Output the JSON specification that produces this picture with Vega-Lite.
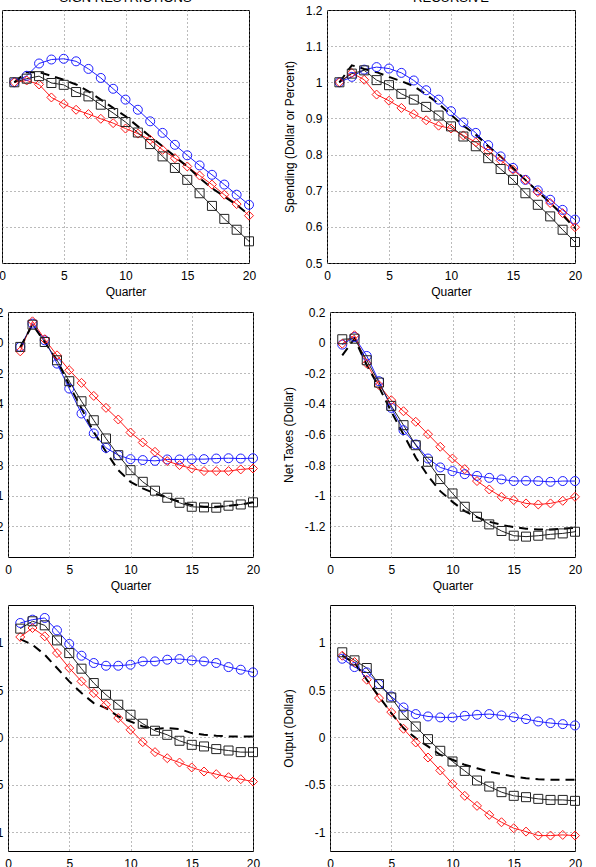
{
"$schema": "https://vega.github.io/schema/vega-lite/v6.json",
"padding": {"left": -77, "top": -9, "right": 0, "bottom": 0},
"autosize": {"type": "pad"},
"config": {
  "font": "Liberation Sans",
  "view": {"stroke": "#000", "strokeWidth": 1},
  "axis": {"domain": false, "tickSize": 0, "labelFontSize": 12, "labelColor": "#000", "titleFontSize": 12, "titleFontWeight": "normal", "titleColor": "#000", "grid": true, "gridDash": [1, 3], "gridColor": "#777", "gridOpacity": 1, "labelPadding": 5},
  "axisX": {"labelPadding": 7, "titlePadding": 5, "labelFlush": false},
  "axisY": {"titlePadding": 9},
  "title": {"fontSize": 13, "fontWeight": "normal", "color": "#000", "offset": -1, "anchor": "middle"},
  "legend": {"disable": true}
},
"datasets": {
"tl": [
{"s":"circle","q":1,"v":1.0},{"s":"circle","q":2,"v":1.018},{"s":"circle","q":3,"v":1.052},{"s":"circle","q":4,"v":1.063},{"s":"circle","q":5,"v":1.065},{"s":"circle","q":6,"v":1.058},{"s":"circle","q":7,"v":1.037},{"s":"circle","q":8,"v":1.012},{"s":"circle","q":9,"v":0.982},{"s":"circle","q":10,"v":0.952},{"s":"circle","q":11,"v":0.924},{"s":"circle","q":12,"v":0.892},{"s":"circle","q":13,"v":0.860},{"s":"circle","q":14,"v":0.827},{"s":"circle","q":15,"v":0.798},{"s":"circle","q":16,"v":0.770},{"s":"circle","q":17,"v":0.744},{"s":"circle","q":18,"v":0.717},{"s":"circle","q":19,"v":0.689},{"s":"circle","q":20,"v":0.661},
{"s":"diamond","q":1,"v":1.0},{"s":"diamond","q":2,"v":1.005},{"s":"diamond","q":3,"v":0.994},{"s":"diamond","q":4,"v":0.958},{"s":"diamond","q":5,"v":0.940},{"s":"diamond","q":6,"v":0.924},{"s":"diamond","q":7,"v":0.912},{"s":"diamond","q":8,"v":0.899},{"s":"diamond","q":9,"v":0.887},{"s":"diamond","q":10,"v":0.872},{"s":"diamond","q":11,"v":0.858},{"s":"diamond","q":12,"v":0.841},{"s":"diamond","q":13,"v":0.813},{"s":"diamond","q":14,"v":0.790},{"s":"diamond","q":15,"v":0.767},{"s":"diamond","q":16,"v":0.742},{"s":"diamond","q":17,"v":0.717},{"s":"diamond","q":18,"v":0.689},{"s":"diamond","q":19,"v":0.663},{"s":"diamond","q":20,"v":0.631},
{"s":"square","q":1,"v":1.0},{"s":"square","q":2,"v":1.010},{"s":"square","q":3,"v":1.017},{"s":"square","q":4,"v":0.998},{"s":"square","q":5,"v":0.993},{"s":"square","q":6,"v":0.973},{"s":"square","q":7,"v":0.961},{"s":"square","q":8,"v":0.938},{"s":"square","q":9,"v":0.915},{"s":"square","q":10,"v":0.890},{"s":"square","q":11,"v":0.861},{"s":"square","q":12,"v":0.829},{"s":"square","q":13,"v":0.795},{"s":"square","q":14,"v":0.763},{"s":"square","q":15,"v":0.730},{"s":"square","q":16,"v":0.693},{"s":"square","q":17,"v":0.658},{"s":"square","q":18,"v":0.622},{"s":"square","q":19,"v":0.592},{"s":"square","q":20,"v":0.560},
{"s":"dashed","q":1,"v":1.0},{"s":"dashed","q":2,"v":1.028},{"s":"dashed","q":3,"v":1.028},{"s":"dashed","q":4,"v":1.018},{"s":"dashed","q":5,"v":1.007},{"s":"dashed","q":6,"v":0.994},{"s":"dashed","q":7,"v":0.975},{"s":"dashed","q":8,"v":0.952},{"s":"dashed","q":9,"v":0.929},{"s":"dashed","q":10,"v":0.906},{"s":"dashed","q":11,"v":0.878},{"s":"dashed","q":12,"v":0.850},{"s":"dashed","q":13,"v":0.823},{"s":"dashed","q":14,"v":0.795},{"s":"dashed","q":15,"v":0.767},{"s":"dashed","q":16,"v":0.735},{"s":"dashed","q":17,"v":0.707},{"s":"dashed","q":18,"v":0.684},{"s":"dashed","q":19,"v":0.661},{"s":"dashed","q":20,"v":0.633}
],
"tr": [
{"s":"circle","q":1,"v":1.0},{"s":"circle","q":2,"v":1.015},{"s":"circle","q":3,"v":1.035},{"s":"circle","q":4,"v":1.042},{"s":"circle","q":5,"v":1.038},{"s":"circle","q":6,"v":1.026},{"s":"circle","q":7,"v":1.005},{"s":"circle","q":8,"v":0.978},{"s":"circle","q":9,"v":0.952},{"s":"circle","q":10,"v":0.920},{"s":"circle","q":11,"v":0.889},{"s":"circle","q":12,"v":0.860},{"s":"circle","q":13,"v":0.826},{"s":"circle","q":14,"v":0.795},{"s":"circle","q":15,"v":0.763},{"s":"circle","q":16,"v":0.730},{"s":"circle","q":17,"v":0.701},{"s":"circle","q":18,"v":0.675},{"s":"circle","q":19,"v":0.647},{"s":"circle","q":20,"v":0.620},
{"s":"diamond","q":1,"v":1.0},{"s":"diamond","q":2,"v":1.026},{"s":"diamond","q":3,"v":1.007},{"s":"diamond","q":4,"v":0.966},{"s":"diamond","q":5,"v":0.949},{"s":"diamond","q":6,"v":0.929},{"s":"diamond","q":7,"v":0.912},{"s":"diamond","q":8,"v":0.895},{"s":"diamond","q":9,"v":0.880},{"s":"diamond","q":10,"v":0.872},{"s":"diamond","q":11,"v":0.853},{"s":"diamond","q":12,"v":0.834},{"s":"diamond","q":13,"v":0.809},{"s":"diamond","q":14,"v":0.784},{"s":"diamond","q":15,"v":0.758},{"s":"diamond","q":16,"v":0.730},{"s":"diamond","q":17,"v":0.696},{"s":"diamond","q":18,"v":0.666},{"s":"diamond","q":19,"v":0.638},{"s":"diamond","q":20,"v":0.599},
{"s":"square","q":1,"v":1.0},{"s":"square","q":2,"v":1.024},{"s":"square","q":3,"v":1.033},{"s":"square","q":4,"v":1.006},{"s":"square","q":5,"v":0.992},{"s":"square","q":6,"v":0.968},{"s":"square","q":7,"v":0.952},{"s":"square","q":8,"v":0.932},{"s":"square","q":9,"v":0.908},{"s":"square","q":10,"v":0.878},{"s":"square","q":11,"v":0.850},{"s":"square","q":12,"v":0.823},{"s":"square","q":13,"v":0.790},{"s":"square","q":14,"v":0.760},{"s":"square","q":15,"v":0.730},{"s":"square","q":16,"v":0.693},{"s":"square","q":17,"v":0.661},{"s":"square","q":18,"v":0.629},{"s":"square","q":19,"v":0.592},{"s":"square","q":20,"v":0.558},
{"s":"dashed","q":1,"v":1.0},{"s":"dashed","q":2,"v":1.047},{"s":"dashed","q":3,"v":1.037},{"s":"dashed","q":4,"v":1.028},{"s":"dashed","q":5,"v":1.015},{"s":"dashed","q":6,"v":1.003},{"s":"dashed","q":7,"v":0.989},{"s":"dashed","q":8,"v":0.966},{"s":"dashed","q":9,"v":0.941},{"s":"dashed","q":10,"v":0.910},{"s":"dashed","q":11,"v":0.880},{"s":"dashed","q":12,"v":0.855},{"s":"dashed","q":13,"v":0.823},{"s":"dashed","q":14,"v":0.795},{"s":"dashed","q":15,"v":0.763},{"s":"dashed","q":16,"v":0.730},{"s":"dashed","q":17,"v":0.698},{"s":"dashed","q":18,"v":0.666},{"s":"dashed","q":19,"v":0.633},{"s":"dashed","q":20,"v":0.596}
],
"ml": [
{"s":"circle","q":1,"v":-0.028},{"s":"circle","q":2,"v":0.124},{"s":"circle","q":3,"v":0.015},{"s":"circle","q":4,"v":-0.137},{"s":"circle","q":5,"v":-0.300},{"s":"circle","q":6,"v":-0.463},{"s":"circle","q":7,"v":-0.593},{"s":"circle","q":8,"v":-0.687},{"s":"circle","q":9,"v":-0.735},{"s":"circle","q":10,"v":-0.761},{"s":"circle","q":11,"v":-0.767},{"s":"circle","q":12,"v":-0.772},{"s":"circle","q":13,"v":-0.763},{"s":"circle","q":14,"v":-0.763},{"s":"circle","q":15,"v":-0.761},{"s":"circle","q":16,"v":-0.761},{"s":"circle","q":17,"v":-0.757},{"s":"circle","q":18,"v":-0.755},{"s":"circle","q":19,"v":-0.757},{"s":"circle","q":20,"v":-0.755},
{"s":"diamond","q":1,"v":-0.057},{"s":"diamond","q":2,"v":0.139},{"s":"diamond","q":3,"v":0.022},{"s":"diamond","q":4,"v":-0.083},{"s":"diamond","q":5,"v":-0.180},{"s":"diamond","q":6,"v":-0.263},{"s":"diamond","q":7,"v":-0.348},{"s":"diamond","q":8,"v":-0.426},{"s":"diamond","q":9,"v":-0.502},{"s":"diamond","q":10,"v":-0.587},{"s":"diamond","q":11,"v":-0.652},{"s":"diamond","q":12,"v":-0.713},{"s":"diamond","q":13,"v":-0.774},{"s":"diamond","q":14,"v":-0.800},{"s":"diamond","q":15,"v":-0.822},{"s":"diamond","q":16,"v":-0.839},{"s":"diamond","q":17,"v":-0.839},{"s":"diamond","q":18,"v":-0.839},{"s":"diamond","q":19,"v":-0.828},{"s":"diamond","q":20,"v":-0.822},
{"s":"square","q":1,"v":-0.028},{"s":"square","q":2,"v":0.117},{"s":"square","q":3,"v":0.004},{"s":"square","q":4,"v":-0.115},{"s":"square","q":5,"v":-0.252},{"s":"square","q":6,"v":-0.383},{"s":"square","q":7,"v":-0.507},{"s":"square","q":8,"v":-0.626},{"s":"square","q":9,"v":-0.735},{"s":"square","q":10,"v":-0.833},{"s":"square","q":11,"v":-0.909},{"s":"square","q":12,"v":-0.967},{"s":"square","q":13,"v":-1.013},{"s":"square","q":14,"v":-1.046},{"s":"square","q":15,"v":-1.072},{"s":"square","q":16,"v":-1.076},{"s":"square","q":17,"v":-1.078},{"s":"square","q":18,"v":-1.065},{"s":"square","q":19,"v":-1.057},{"s":"square","q":20,"v":-1.043},
{"s":"dashed","q":1,"v":-0.03},{"s":"dashed","q":2,"v":0.117},{"s":"dashed","q":3,"v":0.004},{"s":"dashed","q":4,"v":-0.115},{"s":"dashed","q":5,"v":-0.278},{"s":"dashed","q":6,"v":-0.430},{"s":"dashed","q":7,"v":-0.583},{"s":"dashed","q":8,"v":-0.713},{"s":"dashed","q":9,"v":-0.833},{"s":"dashed","q":10,"v":-0.909},{"s":"dashed","q":11,"v":-0.952},{"s":"dashed","q":12,"v":-0.985},{"s":"dashed","q":13,"v":-1.013},{"s":"dashed","q":14,"v":-1.039},{"s":"dashed","q":15,"v":-1.061},{"s":"dashed","q":16,"v":-1.072},{"s":"dashed","q":17,"v":-1.072},{"s":"dashed","q":18,"v":-1.065},{"s":"dashed","q":19,"v":-1.057},{"s":"dashed","q":20,"v":-1.043}
],
"mr": [
{"s":"circle","q":1,"v":-0.013},{"s":"circle","q":2,"v":0.037},{"s":"circle","q":3,"v":-0.087},{"s":"circle","q":4,"v":-0.252},{"s":"circle","q":5,"v":-0.426},{"s":"circle","q":6,"v":-0.572},{"s":"circle","q":7,"v":-0.665},{"s":"circle","q":8,"v":-0.757},{"s":"circle","q":9,"v":-0.815},{"s":"circle","q":10,"v":-0.839},{"s":"circle","q":11,"v":-0.859},{"s":"circle","q":12,"v":-0.870},{"s":"circle","q":13,"v":-0.883},{"s":"circle","q":14,"v":-0.893},{"s":"circle","q":15,"v":-0.904},{"s":"circle","q":16,"v":-0.902},{"s":"circle","q":17,"v":-0.904},{"s":"circle","q":18,"v":-0.909},{"s":"circle","q":19,"v":-0.904},{"s":"circle","q":20,"v":-0.904},
{"s":"diamond","q":1,"v":-0.007},{"s":"diamond","q":2,"v":0.048},{"s":"diamond","q":3,"v":-0.137},{"s":"diamond","q":4,"v":-0.278},{"s":"diamond","q":5,"v":-0.376},{"s":"diamond","q":6,"v":-0.448},{"s":"diamond","q":7,"v":-0.517},{"s":"diamond","q":8,"v":-0.598},{"s":"diamond","q":9,"v":-0.680},{"s":"diamond","q":10,"v":-0.757},{"s":"diamond","q":11,"v":-0.826},{"s":"diamond","q":12,"v":-0.904},{"s":"diamond","q":13,"v":-0.959},{"s":"diamond","q":14,"v":-1.007},{"s":"diamond","q":15,"v":-1.028},{"s":"diamond","q":16,"v":-1.050},{"s":"diamond","q":17,"v":-1.057},{"s":"diamond","q":18,"v":-1.050},{"s":"diamond","q":19,"v":-1.033},{"s":"diamond","q":20,"v":-1.007},
{"s":"square","q":1,"v":0.022},{"s":"square","q":2,"v":0.026},{"s":"square","q":3,"v":-0.115},{"s":"square","q":4,"v":-0.261},{"s":"square","q":5,"v":-0.413},{"s":"square","q":6,"v":-0.539},{"s":"square","q":7,"v":-0.670},{"s":"square","q":8,"v":-0.778},{"s":"square","q":9,"v":-0.891},{"s":"square","q":10,"v":-0.985},{"s":"square","q":11,"v":-1.072},{"s":"square","q":12,"v":-1.137},{"s":"square","q":13,"v":-1.187},{"s":"square","q":14,"v":-1.230},{"s":"square","q":15,"v":-1.261},{"s":"square","q":16,"v":-1.267},{"s":"square","q":17,"v":-1.261},{"s":"square","q":18,"v":-1.252},{"s":"square","q":19,"v":-1.246},{"s":"square","q":20,"v":-1.235},
{"s":"dashed","q":1,"v":-0.083},{"s":"dashed","q":2,"v":0.026},{"s":"dashed","q":3,"v":-0.148},{"s":"dashed","q":4,"v":-0.290},{"s":"dashed","q":5,"v":-0.450},{"s":"dashed","q":6,"v":-0.600},{"s":"dashed","q":7,"v":-0.750},{"s":"dashed","q":8,"v":-0.870},{"s":"dashed","q":9,"v":-0.970},{"s":"dashed","q":10,"v":-1.040},{"s":"dashed","q":11,"v":-1.100},{"s":"dashed","q":12,"v":-1.140},{"s":"dashed","q":13,"v":-1.170},{"s":"dashed","q":14,"v":-1.190},{"s":"dashed","q":15,"v":-1.205},{"s":"dashed","q":16,"v":-1.215},{"s":"dashed","q":17,"v":-1.220},{"s":"dashed","q":18,"v":-1.220},{"s":"dashed","q":19,"v":-1.215},{"s":"dashed","q":20,"v":-1.210}
],
"bl": [
{"s":"circle","q":1,"v":1.210},{"s":"circle","q":2,"v":1.245},{"s":"circle","q":3,"v":1.263},{"s":"circle","q":4,"v":1.132},{"s":"circle","q":5,"v":0.988},{"s":"circle","q":6,"v":0.864},{"s":"circle","q":7,"v":0.787},{"s":"circle","q":8,"v":0.758},{"s":"circle","q":9,"v":0.758},{"s":"circle","q":10,"v":0.769},{"s":"circle","q":11,"v":0.804},{"s":"circle","q":12,"v":0.804},{"s":"circle","q":13,"v":0.822},{"s":"circle","q":14,"v":0.829},{"s":"circle","q":15,"v":0.815},{"s":"circle","q":16,"v":0.804},{"s":"circle","q":17,"v":0.787},{"s":"circle","q":18,"v":0.744},{"s":"circle","q":19,"v":0.716},{"s":"circle","q":20,"v":0.688},
{"s":"diamond","q":1,"v":1.062},{"s":"diamond","q":2,"v":1.157},{"s":"diamond","q":3,"v":1.069},{"s":"diamond","q":4,"v":0.892},{"s":"diamond","q":5,"v":0.734},{"s":"diamond","q":6,"v":0.593},{"s":"diamond","q":7,"v":0.469},{"s":"diamond","q":8,"v":0.346},{"s":"diamond","q":9,"v":0.205},{"s":"diamond","q":10,"v":0.081},{"s":"diamond","q":11,"v":-0.049},{"s":"diamond","q":12,"v":-0.155},{"s":"diamond","q":13,"v":-0.219},{"s":"diamond","q":14,"v":-0.265},{"s":"diamond","q":15,"v":-0.317},{"s":"diamond","q":16,"v":-0.360},{"s":"diamond","q":17,"v":-0.388},{"s":"diamond","q":18,"v":-0.420},{"s":"diamond","q":19,"v":-0.441},{"s":"diamond","q":20,"v":-0.466},
{"s":"square","q":1,"v":1.150},{"s":"square","q":2,"v":1.228},{"s":"square","q":3,"v":1.185},{"s":"square","q":4,"v":1.026},{"s":"square","q":5,"v":0.892},{"s":"square","q":6,"v":0.727},{"s":"square","q":7,"v":0.575},{"s":"square","q":8,"v":0.451},{"s":"square","q":9,"v":0.346},{"s":"square","q":10,"v":0.240},{"s":"square","q":11,"v":0.145},{"s":"square","q":12,"v":0.071},{"s":"square","q":13,"v":0.028},{"s":"square","q":14,"v":-0.035},{"s":"square","q":15,"v":-0.078},{"s":"square","q":16,"v":-0.095},{"s":"square","q":17,"v":-0.123},{"s":"square","q":18,"v":-0.138},{"s":"square","q":19,"v":-0.155},{"s":"square","q":20,"v":-0.155},
{"s":"dashed","q":1,"v":1.040},{"s":"dashed","q":2,"v":0.980},{"s":"dashed","q":3,"v":0.875},{"s":"dashed","q":4,"v":0.734},{"s":"dashed","q":5,"v":0.593},{"s":"dashed","q":6,"v":0.469},{"s":"dashed","q":7,"v":0.363},{"s":"dashed","q":8,"v":0.310},{"s":"dashed","q":9,"v":0.222},{"s":"dashed","q":10,"v":0.169},{"s":"dashed","q":11,"v":0.116},{"s":"dashed","q":12,"v":0.090},{"s":"dashed","q":13,"v":0.100},{"s":"dashed","q":14,"v":0.090},{"s":"dashed","q":15,"v":0.046},{"s":"dashed","q":16,"v":0.028},{"s":"dashed","q":17,"v":0.018},{"s":"dashed","q":18,"v":0.011},{"s":"dashed","q":19,"v":0.011},{"s":"dashed","q":20,"v":0.011}
],
"br": [
{"s":"circle","q":1,"v":0.832},{"s":"circle","q":2,"v":0.744},{"s":"circle","q":3,"v":0.688},{"s":"circle","q":4,"v":0.564},{"s":"circle","q":5,"v":0.434},{"s":"circle","q":6,"v":0.317},{"s":"circle","q":7,"v":0.247},{"s":"circle","q":8,"v":0.222},{"s":"circle","q":9,"v":0.212},{"s":"circle","q":10,"v":0.212},{"s":"circle","q":11,"v":0.229},{"s":"circle","q":12,"v":0.240},{"s":"circle","q":13,"v":0.247},{"s":"circle","q":14,"v":0.233},{"s":"circle","q":15,"v":0.215},{"s":"circle","q":16,"v":0.194},{"s":"circle","q":17,"v":0.169},{"s":"circle","q":18,"v":0.152},{"s":"circle","q":19,"v":0.141},{"s":"circle","q":20,"v":0.127},
{"s":"diamond","q":1,"v":0.864},{"s":"diamond","q":2,"v":0.797},{"s":"diamond","q":3,"v":0.610},{"s":"diamond","q":4,"v":0.416},{"s":"diamond","q":5,"v":0.268},{"s":"diamond","q":6,"v":0.092},{"s":"diamond","q":7,"v":-0.053},{"s":"diamond","q":8,"v":-0.212},{"s":"diamond","q":9,"v":-0.349},{"s":"diamond","q":10,"v":-0.490},{"s":"diamond","q":11,"v":-0.617},{"s":"diamond","q":12,"v":-0.723},{"s":"diamond","q":13,"v":-0.818},{"s":"diamond","q":14,"v":-0.896},{"s":"diamond","q":15,"v":-0.959},{"s":"diamond","q":16,"v":-0.995},{"s":"diamond","q":17,"v":-1.037},{"s":"diamond","q":18,"v":-1.037},{"s":"diamond","q":19,"v":-1.030},{"s":"diamond","q":20,"v":-1.037},
{"s":"square","q":1,"v":0.900},{"s":"square","q":2,"v":0.815},{"s":"square","q":3,"v":0.734},{"s":"square","q":4,"v":0.564},{"s":"square","q":5,"v":0.423},{"s":"square","q":6,"v":0.240},{"s":"square","q":7,"v":0.116},{"s":"square","q":8,"v":-0.018},{"s":"square","q":9,"v":-0.141},{"s":"square","q":10,"v":-0.254},{"s":"square","q":11,"v":-0.353},{"s":"square","q":12,"v":-0.455},{"s":"square","q":13,"v":-0.519},{"s":"square","q":14,"v":-0.578},{"s":"square","q":15,"v":-0.617},{"s":"square","q":16,"v":-0.631},{"s":"square","q":17,"v":-0.649},{"s":"square","q":18,"v":-0.660},{"s":"square","q":19,"v":-0.660},{"s":"square","q":20,"v":-0.670},
{"s":"dashed","q":1,"v":0.864},{"s":"dashed","q":2,"v":0.787},{"s":"dashed","q":3,"v":0.610},{"s":"dashed","q":4,"v":0.434},{"s":"dashed","q":5,"v":0.257},{"s":"dashed","q":6,"v":0.099},{"s":"dashed","q":7,"v":-0.007},{"s":"dashed","q":8,"v":-0.095},{"s":"dashed","q":9,"v":-0.183},{"s":"dashed","q":10,"v":-0.236},{"s":"dashed","q":11,"v":-0.289},{"s":"dashed","q":12,"v":-0.325},{"s":"dashed","q":13,"v":-0.360},{"s":"dashed","q":14,"v":-0.388},{"s":"dashed","q":15,"v":-0.413},{"s":"dashed","q":16,"v":-0.430},{"s":"dashed","q":17,"v":-0.441},{"s":"dashed","q":18,"v":-0.448},{"s":"dashed","q":19,"v":-0.448},{"s":"dashed","q":20,"v":-0.448}
]
},
"spacing": 7,
"vconcat": [
{
 "bounds": "flush", "spacing": 78,
 "hconcat": [
  {"width": 1, "height": 10, "data": {"values": []}, "mark": "point", "view": {"stroke": null}},
  {"width": 247, "height": 253, "data": {"name": "tl"},
   "title": {"text": "SIGN RESTRICTIONS"},
   "encoding": {
     "x": {"field": "q", "type": "quantitative", "scale": {"domain": [0, 20], "nice": false}, "axis": {"values": [0, 5, 10, 15, 20], "title": "Quarter"}},
     "y": {"field": "v", "type": "quantitative", "scale": {"domain": [0.5, 1.2], "nice": false, "zero": false}, "axis": {"values": [0.5, 0.6, 0.7, 0.8, 0.9, 1, 1.1, 1.2], "labelExpr": "'' + datum.value", "title": null}}
   },
   "layer": [
    {"transform": [{"filter": "datum.s !== 'dashed'"}], "mark": {"type": "line", "strokeWidth": 1}, "encoding": {"color": {"field": "s", "type": "nominal", "scale": {"domain": ["circle", "diamond", "square"], "range": ["#1f1fff", "#ff1a1a", "#222222"]}}}},
    {"transform": [{"filter": "datum.s === 'dashed'"}], "mark": {"type": "line", "strokeWidth": 2, "strokeDash": [9, 6], "color": "#000"}, "encoding": {}},
    {"transform": [{"filter": "datum.s !== 'dashed'"}], "mark": {"type": "point", "filled": false, "strokeWidth": 1, "opacity": 1}, "encoding": {"color": {"field": "s", "type": "nominal", "scale": {"domain": ["circle", "diamond", "square"], "range": ["#1f1fff", "#ff1a1a", "#222222"]}}, "shape": {"field": "s", "type": "nominal", "scale": {"domain": ["circle", "diamond", "square"], "range": ["circle", "diamond", "square"]}}, "size": {"field": "s", "type": "ordinal", "scale": {"domain": ["circle", "diamond", "square"], "range": [81, 81, 50]}}}}
   ]},
  {"width": 248, "height": 253, "data": {"name": "tr"},
   "title": {"text": "RECURSIVE"},
   "encoding": {
     "x": {"field": "q", "type": "quantitative", "scale": {"domain": [0, 20], "nice": false}, "axis": {"values": [0, 5, 10, 15, 20], "title": "Quarter"}},
     "y": {"field": "v", "type": "quantitative", "scale": {"domain": [0.5, 1.2], "nice": false, "zero": false}, "axis": {"values": [0.5, 0.6, 0.7, 0.8, 0.9, 1, 1.1, 1.2], "labelExpr": "'' + datum.value", "title": "Spending (Dollar or Percent)"}}
   },
   "layer": [
    {"transform": [{"filter": "datum.s !== 'dashed'"}], "mark": {"type": "line", "strokeWidth": 1}, "encoding": {"color": {"field": "s", "type": "nominal", "scale": {"domain": ["circle", "diamond", "square"], "range": ["#1f1fff", "#ff1a1a", "#222222"]}}}},
    {"transform": [{"filter": "datum.s === 'dashed'"}], "mark": {"type": "line", "strokeWidth": 2, "strokeDash": [9, 6], "color": "#000"}, "encoding": {}},
    {"transform": [{"filter": "datum.s !== 'dashed'"}], "mark": {"type": "point", "filled": false, "strokeWidth": 1, "opacity": 1}, "encoding": {"color": {"field": "s", "type": "nominal", "scale": {"domain": ["circle", "diamond", "square"], "range": ["#1f1fff", "#ff1a1a", "#222222"]}}, "shape": {"field": "s", "type": "nominal", "scale": {"domain": ["circle", "diamond", "square"], "range": ["circle", "diamond", "square"]}}, "size": {"field": "s", "type": "ordinal", "scale": {"domain": ["circle", "diamond", "square"], "range": [81, 81, 50]}}}}
   ]}
 ]
},
{
 "spacing": 12,
 "vconcat": [
  {
   "bounds": "flush", "spacing": 77,
   "hconcat": [
      {"width": 8, "height": 10, "data": {"values": []}, "mark": "point", "view": {"stroke": null}},
      {"width": 245, "height": 245, "data": {"name": "ml"},
       "encoding": {
         "x": {"field": "q", "type": "quantitative", "scale": {"domain": [0, 20], "nice": false}, "axis": {"values": [0, 5, 10, 15, 20], "title": "Quarter"}},
         "y": {"field": "v", "type": "quantitative", "scale": {"domain": [-1.4, 0.2], "nice": false, "zero": false}, "axis": {"values": [-1.2, -1, -0.8, -0.6, -0.4, -0.2, 0, 0.2], "labelExpr": "'' + datum.value", "title": null}}
       },
       "layer": [
        {"transform": [{"filter": "datum.s !== 'dashed'"}], "mark": {"type": "line", "strokeWidth": 1}, "encoding": {"color": {"field": "s", "type": "nominal", "scale": {"domain": ["circle", "diamond", "square"], "range": ["#1f1fff", "#ff1a1a", "#222222"]}}}},
        {"transform": [{"filter": "datum.s === 'dashed'"}], "mark": {"type": "line", "strokeWidth": 2, "strokeDash": [9, 6], "color": "#000"}, "encoding": {}},
        {"transform": [{"filter": "datum.s !== 'dashed'"}], "mark": {"type": "point", "filled": false, "strokeWidth": 1, "opacity": 1}, "encoding": {"color": {"field": "s", "type": "nominal", "scale": {"domain": ["circle", "diamond", "square"], "range": ["#1f1fff", "#ff1a1a", "#222222"]}}, "shape": {"field": "s", "type": "nominal", "scale": {"domain": ["circle", "diamond", "square"], "range": ["circle", "diamond", "square"]}}, "size": {"field": "s", "type": "ordinal", "scale": {"domain": ["circle", "diamond", "square"], "range": [81, 81, 50]}}}}
       ]},
      {"width": 245, "height": 245, "data": {"name": "mr"},
       "encoding": {
         "x": {"field": "q", "type": "quantitative", "scale": {"domain": [0, 20], "nice": false}, "axis": {"values": [0, 5, 10, 15, 20], "title": "Quarter"}},
         "y": {"field": "v", "type": "quantitative", "scale": {"domain": [-1.4, 0.2], "nice": false, "zero": false}, "axis": {"values": [-1.2, -1, -0.8, -0.6, -0.4, -0.2, 0, 0.2], "labelExpr": "'' + datum.value", "title": "Net Taxes (Dollar)"}}
       },
       "layer": [
        {"transform": [{"filter": "datum.s !== 'dashed'"}], "mark": {"type": "line", "strokeWidth": 1}, "encoding": {"color": {"field": "s", "type": "nominal", "scale": {"domain": ["circle", "diamond", "square"], "range": ["#1f1fff", "#ff1a1a", "#222222"]}}}},
        {"transform": [{"filter": "datum.s === 'dashed'"}], "mark": {"type": "line", "strokeWidth": 2, "strokeDash": [9, 6], "color": "#000"}, "encoding": {}},
        {"transform": [{"filter": "datum.s !== 'dashed'"}], "mark": {"type": "point", "filled": false, "strokeWidth": 1, "opacity": 1}, "encoding": {"color": {"field": "s", "type": "nominal", "scale": {"domain": ["circle", "diamond", "square"], "range": ["#1f1fff", "#ff1a1a", "#222222"]}}, "shape": {"field": "s", "type": "nominal", "scale": {"domain": ["circle", "diamond", "square"], "range": ["circle", "diamond", "square"]}}, "size": {"field": "s", "type": "ordinal", "scale": {"domain": ["circle", "diamond", "square"], "range": [81, 81, 50]}}}}
       ]}
   ]
  },
  {
   "bounds": "flush", "spacing": 77,
   "hconcat": [
      {"width": 8, "height": 10, "data": {"values": []}, "mark": "point", "view": {"stroke": null}},
      {"width": 245, "height": 246, "data": {"name": "bl"},
       "encoding": {
         "x": {"field": "q", "type": "quantitative", "scale": {"domain": [0, 20], "nice": false}, "axis": {"values": [0, 5, 10, 15, 20], "title": "Quarter"}},
         "y": {"field": "v", "type": "quantitative", "scale": {"domain": [-1.2, 1.4], "nice": false, "zero": false}, "axis": {"values": [-1, -0.5, 0, 0.5, 1], "labelExpr": "'' + datum.value", "title": null}}
       },
       "layer": [
        {"transform": [{"filter": "datum.s !== 'dashed'"}], "mark": {"type": "line", "strokeWidth": 1}, "encoding": {"color": {"field": "s", "type": "nominal", "scale": {"domain": ["circle", "diamond", "square"], "range": ["#1f1fff", "#ff1a1a", "#222222"]}}}},
        {"transform": [{"filter": "datum.s === 'dashed'"}], "mark": {"type": "line", "strokeWidth": 2, "strokeDash": [9, 6], "color": "#000"}, "encoding": {}},
        {"transform": [{"filter": "datum.s !== 'dashed'"}], "mark": {"type": "point", "filled": false, "strokeWidth": 1, "opacity": 1}, "encoding": {"color": {"field": "s", "type": "nominal", "scale": {"domain": ["circle", "diamond", "square"], "range": ["#1f1fff", "#ff1a1a", "#222222"]}}, "shape": {"field": "s", "type": "nominal", "scale": {"domain": ["circle", "diamond", "square"], "range": ["circle", "diamond", "square"]}}, "size": {"field": "s", "type": "ordinal", "scale": {"domain": ["circle", "diamond", "square"], "range": [81, 81, 50]}}}}
       ]},
      {"width": 245, "height": 246, "data": {"name": "br"},
       "encoding": {
         "x": {"field": "q", "type": "quantitative", "scale": {"domain": [0, 20], "nice": false}, "axis": {"values": [0, 5, 10, 15, 20], "title": "Quarter"}},
         "y": {"field": "v", "type": "quantitative", "scale": {"domain": [-1.2, 1.4], "nice": false, "zero": false}, "axis": {"values": [-1, -0.5, 0, 0.5, 1], "labelExpr": "'' + datum.value", "title": "Output (Dollar)"}}
       },
       "layer": [
        {"transform": [{"filter": "datum.s !== 'dashed'"}], "mark": {"type": "line", "strokeWidth": 1}, "encoding": {"color": {"field": "s", "type": "nominal", "scale": {"domain": ["circle", "diamond", "square"], "range": ["#1f1fff", "#ff1a1a", "#222222"]}}}},
        {"transform": [{"filter": "datum.s === 'dashed'"}], "mark": {"type": "line", "strokeWidth": 2, "strokeDash": [9, 6], "color": "#000"}, "encoding": {}},
        {"transform": [{"filter": "datum.s !== 'dashed'"}], "mark": {"type": "point", "filled": false, "strokeWidth": 1, "opacity": 1}, "encoding": {"color": {"field": "s", "type": "nominal", "scale": {"domain": ["circle", "diamond", "square"], "range": ["#1f1fff", "#ff1a1a", "#222222"]}}, "shape": {"field": "s", "type": "nominal", "scale": {"domain": ["circle", "diamond", "square"], "range": ["circle", "diamond", "square"]}}, "size": {"field": "s", "type": "ordinal", "scale": {"domain": ["circle", "diamond", "square"], "range": [81, 81, 50]}}}}
       ]}
   ]
  }
 ]
}
]
}
